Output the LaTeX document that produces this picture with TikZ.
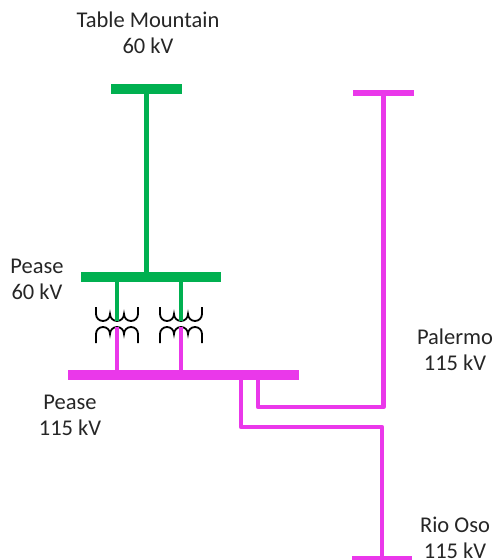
\documentclass[tikz,border=0pt]{standalone}
\usepackage{fontspec}
\setmainfont{Carlito}
\definecolor{busgreen}{RGB}{0,176,80}
\definecolor{busmag}{RGB}{234,56,234}
\definecolor{txtgray}{RGB}{38,38,38}

\begin{document}
\begin{tikzpicture}[x=1pt, y=-1pt,
    lbl/.style={align=center, text=txtgray, inner sep=0pt, font=\fontsize{22.5}{26}\selectfont},
    bus60/.style={fill=busgreen, inner sep=0pt, minimum height=10pt},
    bus115/.style={fill=busmag, inner sep=0pt, minimum height=6pt},
    gline/.style={draw=busgreen, line width=4.5pt},
    mline/.style={draw=busmag, line width=4.5pt, line join=round},
    coil/.style={draw=black, line width=1.8pt}]
  \useasboundingbox (0,0) rectangle (495,560);

  % buses
  \node[bus60, minimum width=71pt] (tm) at (146.5,88.5) {};
  \node[bus60, minimum width=140pt] (p60) at (151,277) {};
  \node[bus115, minimum width=231pt, minimum height=10pt] (p115) at (183.5,375) {};
  \node[bus115, minimum width=61pt] (pal) at (383.5,92.5) {};
  \node[bus115, minimum width=60pt] (rio) at (382,559) {};

  % labels
  \node[lbl] (tmlbl) at (148,33) {Table Mountain\\60 kV};
  \node[lbl] (p60lbl) at (37,279) {Pease\\60 kV};
  \node[lbl] (p115lbl) at (70,415) {Pease\\115 kV};
  \node[lbl] (pallbl) at (455,350) {Palermo\\115 kV};
  \node[lbl] (riolbl) at (455,538) {Rio Oso\\115 kV};

  % transformers
  \foreach \x in {117,181} {
    \draw[coil] (\x-21,307) -- ++(0,7) arc(180:0:7) arc(180:0:7) arc(180:0:7) -- ++(0,-7);
    \draw[coil] (\x-21,343) -- ++(0,-9) arc(180:360:7) arc(180:360:7) arc(180:360:7) -- ++(0,9);
  }
  \coordinate (t1hv) at (117,321);
  \coordinate (t2hv) at (181,321);
  \coordinate (t1lv) at (117,327);
  \coordinate (t2lv) at (181,327);

  % lines
  \draw[gline] (tm) -- (tm |- p60);
  \draw[gline] (p60 -| t1hv) -- (t1hv);
  \draw[gline] (p60 -| t2hv) -- (t2hv);
  \draw[mline] (t1lv) -- (t1lv |- p115);
  \draw[mline] (t2lv) -- (t2lv |- p115);

  \coordinate (tappal) at (258,407);
  \coordinate (taprio) at (241,427);
  \draw[mline] (tappal |- p115) -- (tappal) -| (pal);
  \draw[mline] (taprio |- p115) -- (taprio) -| (rio);
\end{tikzpicture}
\end{document}
